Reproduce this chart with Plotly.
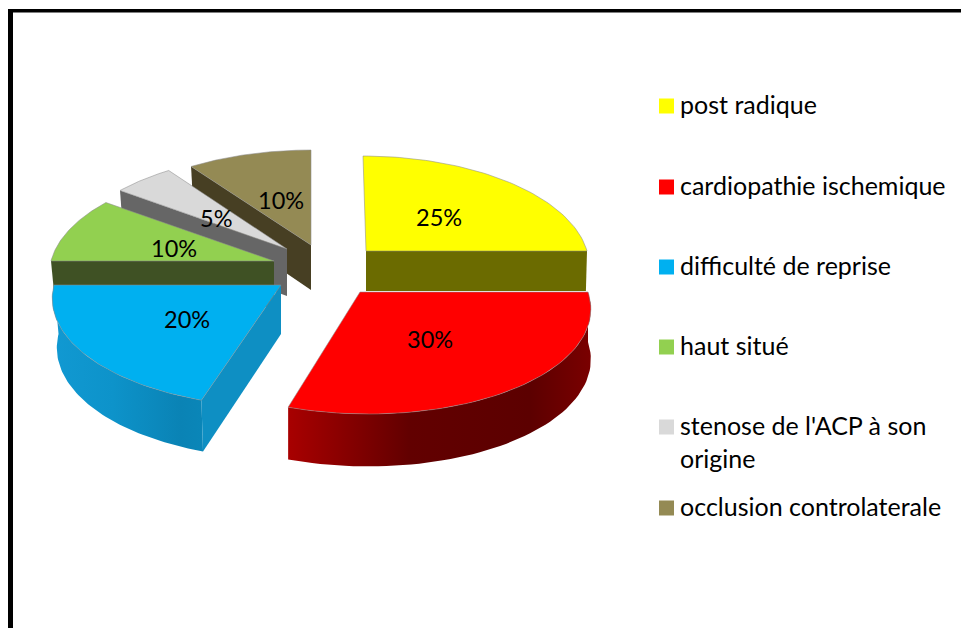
import numpy as np
import plotly.graph_objects as go

# ---- data ----
labels = ["post radique", "cardiopathie ischemique", "difficulté de reprise",
          "haut situé", "stenose de l'ACP à son<br>origine", "occlusion controlaterale"]
values = [25, 30, 20, 10, 5, 10]

# ---- styles ----
top_colors = ["#FFFF00", "#FF0000", "#00B0F0", "#92D050", "#D9D9D9", "#948A54"]
wall_colors = ["#6B6B00", "#600000", "#0E8FC3", "#3F5124", "#666666", "#473F23"]
apex_x = [366, 360, 281, 274, 287, 311]
apex_y = [251, 292, 285, 261, 249, 245]
radius_x = [221, 228, 227, 223, 221.5, 224.6]
skew = [27, 60, 0, 0, 0, 0]
height = [40, 50, 49, 46, 47, 45]
lower_scale = [0.995, 1.0, 0.98, 0.98, 0.98, 0.98]
PERSP = 0.1245
RADIUS_Y = 106.8
label_x = [439, 430, 187, 174, 216, 281]
label_y = [217, 339, 319, 248, 218, 200]
legend_y = [106, 187, 267, 347, 427, 508]
FONT = "Lato"
TEXT_SIZE = 25
PCT_SIZE = 23.5

# slice angles come from the values, clockwise from 12 o'clock
edges = np.cumsum([0] + values) / sum(values) * 2 * np.pi


def project(i, theta, lower=False):
    """Perspective projection of a point on slice i's rim (radius 1)."""
    u, w = np.sin(theta), -np.cos(theta)
    s = 1 / (1 - PERSP * w)
    rx = radius_x[i] * (lower_scale[i] if lower else 1)
    x = apex_x[i] + (rx * u + skew[i]) * s - skew[i]
    y = apex_y[i] + RADIUS_Y * w * s
    if lower:
        y = y + height[i] * s ** 0.35
    return x, y


def apex(i, lower=False):
    return apex_x[i], apex_y[i] + (height[i] if lower else 0)


def arc(i, a, b, lower=False, n=60):
    return project(i, np.linspace(a, b, n), lower)


def poly(fig, x, y, color, line=None, grad=None):
    kw = dict(fillgradient=grad) if grad else dict(fillcolor=color)
    fig.add_trace(go.Scatter(
        x=list(x), y=list(y), mode="lines", fill="toself",
        line=dict(color=line or "rgba(0,0,0,0)", width=1),
        hoverinfo="skip", showlegend=False, **kw))


def radial_wall(fig, i, theta, color):
    tx, ty = project(i, theta)
    bx, by = project(i, theta, True)
    ax, ay = apex(i)
    cx, cy = apex(i, True)
    poly(fig, [ax, tx, bx, cx], [ay, ty, by, cy], color)


def rim_wall(fig, i, a, b, color, grad=None):
    tx, ty = arc(i, a, b)
    bx, by = arc(i, a, b, True)
    poly(fig, np.r_[tx, bx[::-1]], np.r_[ty, by[::-1]], color, grad=grad)


def top(fig, i):
    x, y = arc(i, edges[i], edges[i + 1])
    ax, ay = apex(i)
    poly(fig, np.r_[ax, x, ax], np.r_[ay, y, ay], top_colors[i],
         line="rgba(140,140,140,0.55)")


fig = go.Figure()

# back slices first: brown, grey, green, then yellow, blue, red
radial_wall(fig, 5, edges[5], wall_colors[5]); top(fig, 5)
radial_wall(fig, 4, edges[4], wall_colors[4]); top(fig, 4)
radial_wall(fig, 3, edges[3], wall_colors[3]); top(fig, 3)
radial_wall(fig, 0, edges[1], wall_colors[0]); top(fig, 0)

rim_wall(fig, 2, edges[2], edges[3], wall_colors[2], grad=dict(
    type="horizontal",
    colorscale=[[0, "#1199D2"], [0.4, "#0D93CA"], [0.85, "#0A83B5"], [1, "#0A86B8"]]))
radial_wall(fig, 2, edges[2], wall_colors[2]); top(fig, 2)

rim_wall(fig, 1, edges[1], edges[2], wall_colors[1], grad=dict(
    type="horizontal",
    colorscale=[[0, "#A80000"], [0.15, "#8E0000"], [0.4, "#620000"],
                [0.8, "#5C0000"], [1, "#7A0000"]]))
top(fig, 1)

# legend swatches
fig.add_trace(go.Scatter(
    x=[666.5] * len(labels), y=legend_y, mode="markers",
    marker=dict(symbol="square", size=15, color=top_colors, line=dict(width=0)),
    hoverinfo="skip", showlegend=False))

# percentage labels
for v, x, y in zip(values, label_x, label_y):
    fig.add_annotation(x=x, y=y, text=f"{v}%", showarrow=False,
                       font=dict(family=FONT, size=PCT_SIZE, color="#000000"),
                       xanchor="center", yanchor="middle")
# legend texts
for name, y in zip(labels, legend_y):
    fig.add_annotation(x=678, y=y - 19, text=name, showarrow=False, align="left",
                       font=dict(family=FONT, size=TEXT_SIZE, color="#000000"),
                       xanchor="left", yanchor="top")

fig.update_layout(
    width=961, height=628, margin=dict(l=0, r=0, t=0, b=0),
    paper_bgcolor="white", plot_bgcolor="white", showlegend=False,
    xaxis=dict(range=[0, 961], visible=False, fixedrange=True),
    yaxis=dict(range=[628, 0], visible=False, fixedrange=True),
    shapes=[
        dict(type="rect", x0=8, x1=13, y0=9, y1=628, fillcolor="#000000", line_width=0),
        dict(type="rect", x0=8, x1=961, y0=9, y1=12.5, fillcolor="#000000", line_width=0),
    ],
)
fig.write_html("out.html", config={"displayModeBar": False},
               post_script="document.body.style.margin='0';")
